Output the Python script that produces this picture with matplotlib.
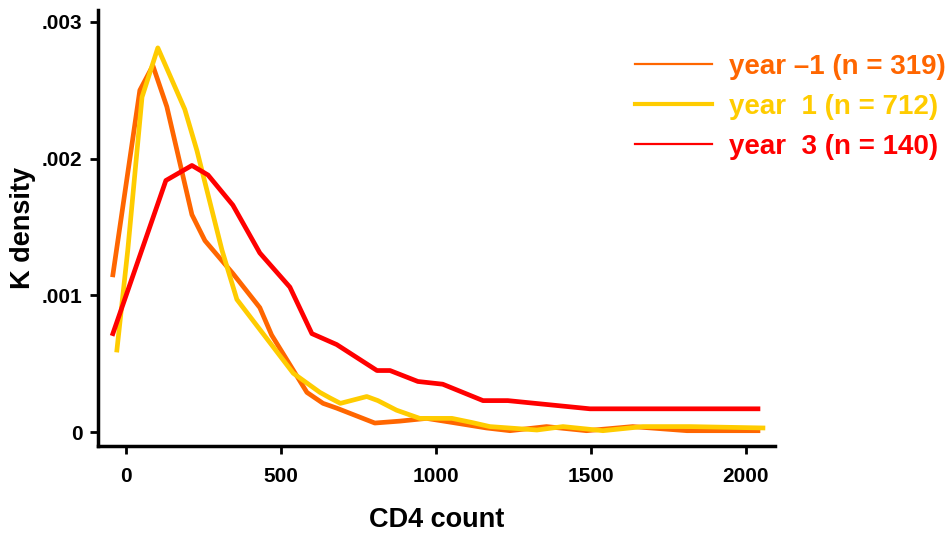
import matplotlib
matplotlib.use("Agg")
import matplotlib.pyplot as plt
from matplotlib.lines import Line2D

# ---- data ----
x_ym1 = [-42, 45, 87, 132, 213, 255, 345, 432, 470, 584, 636, 680, 803, 884, 970,
         1045, 1163, 1239, 1357, 1486, 1635, 1810, 2039]
y_ym1 = [0.00115, 0.00250, 0.00268, 0.00238, 0.00159, 0.00140, 0.00116, 0.00091, 0.00071,
         0.00029, 0.00021, 0.000175, 0.000066, 0.00008, 0.00010, 0.000073, 0.00003,
         0.00001, 0.00004, 0.00001, 0.00004, 0.00001, 0.00001]

x_y1 = [-29, 6, 52, 103, 190, 229, 310, 358, 540, 626, 658, 692, 777, 813, 873, 948,
        1052, 1116, 1174, 1326, 1410, 1539, 1668, 1819, 2055]
y_y1 = [0.00060, 0.00133, 0.00245, 0.00281, 0.00236, 0.00206, 0.00133, 0.00097, 0.00043,
        0.00029, 0.00025, 0.00021, 0.00026, 0.00023, 0.00016, 0.00010, 0.00010,
        0.00007, 0.00004, 0.000015, 0.00004, 0.00001, 0.00004, 0.00004, 0.00003]

x_y3 = [-42, 129, 213, 265, 345, 432, 529, 600, 680, 810, 852, 942, 1022, 1152, 1232,
        1320, 1497, 2039]
y_y3 = [0.00072, 0.00184, 0.00195, 0.00188, 0.00166, 0.00131, 0.00106, 0.00072, 0.00064,
        0.00045, 0.00045, 0.00037, 0.00035, 0.00023, 0.00023, 0.00021, 0.00017, 0.00017]

labels = ["year \u20131 (n = 319)", "year  1 (n = 712)", "year  3 (n = 140)"]
colors = ["#FF6600", "#FFCC00", "#FF0000"]

xticks = [0, 500, 1000, 1500, 2000]
xticklabels = ["0", "500", "1000", "1500", "2000"]
yticks = [0, 0.001, 0.002, 0.003]
yticklabels = ["0", ".001", ".002", ".003"]

plt.rcParams['font.family'] = ['Liberation Sans', 'DejaVu Sans']
plt.rcParams['font.weight'] = 'bold'

W, H = 951, 533
fig = plt.figure(figsize=(W/100, H/100), dpi=100)
ax = fig.add_axes([98/W, 1-446/H, (775-98)/W, (446-10)/H])

ax.plot(x_ym1, y_ym1, color=colors[0], lw=3.4)
ax.plot(x_y1, y_y1, color=colors[1], lw=3.4)
ax.plot(x_y3, y_y3, color=colors[2], lw=3.4)

ax.set_xlim(-90, 2094)
ax.set_ylim(-0.000102, 0.003087)
ax.set_xticks(xticks)
ax.set_xticklabels(xticklabels, fontsize=15, fontweight='bold')
ax.set_yticks(yticks)
ax.set_yticklabels(yticklabels, fontsize=15, fontweight='bold')
ax.tick_params(direction='out', length=6, width=2)
ax.tick_params(axis='x', pad=9)
ax.tick_params(axis='y', pad=5)

for s in ['top', 'right']:
    ax.spines[s].set_visible(False)
for s in ['left', 'bottom']:
    ax.spines[s].set_linewidth(2.5)

ax.set_xlabel("CD4 count", fontsize=19.5, fontweight='bold', va='baseline')
ax.xaxis.set_label_coords(0.5, -(527-446)/436)
ax.set_ylabel("K density", fontsize=19.5, fontweight='bold')
ax.yaxis.set_label_coords(-(98-36)/677, 0.5)

handles = [Line2D([], [], color=colors[0], lw=1.6),
           Line2D([], [], color=colors[1], lw=3.0),
           Line2D([], [], color=colors[2], lw=1.6)]
leg = fig.legend(handles, labels, loc='upper left', bbox_to_anchor=(635/W, 1-54/H),
                 frameon=False, prop={'size': 20, 'weight': 'bold'},
                 handlelength=2.77, handletextpad=0.62, labelspacing=0.50,
                 borderaxespad=0.0, borderpad=0.0)
for t, c in zip(leg.get_texts(), colors):
    t.set_color(c)

fig.savefig("out.png", dpi=100)
